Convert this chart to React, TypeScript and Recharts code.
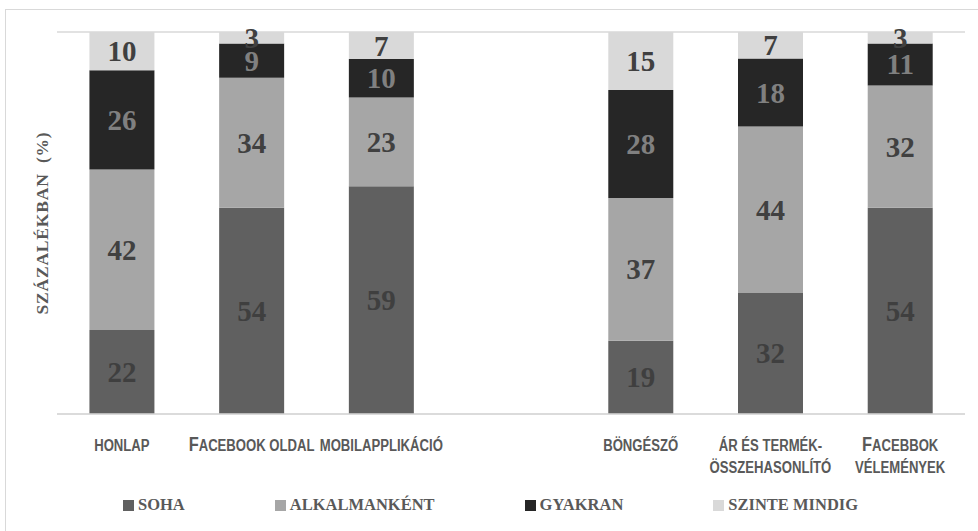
import { Bar, BarChart, CartesianGrid, LabelList, Legend, XAxis, YAxis } from "recharts";

// category labels; "\n" marks a line break in the axis label
const categories = [
  "honlap",
  "Facebook oldal",
  "mobilapplikáció",
  "",
  "böngésző",
  "ár és termék-\nösszehasonlító",
  "Facebbok\nvélemények",
];

const soha = [22, 54, 59, null, 19, 32, 54];
const alkalmankent = [42, 34, 23, null, 37, 44, 32];
const gyakran = [26, 9, 10, null, 28, 18, 11];
const szinteMindig = [10, 3, 7, null, 15, 7, 3];

const gridTicks = [0, 0.1, 0.2, 0.3, 0.4, 0.5, 0.6, 0.7, 0.8, 0.9, 1];

const series = [
  { key: "soha", name: "SOHA", fill: "#606060", label: "#3f3f3f" },
  { key: "alkalmankent", name: "ALKALMANKÉNT", fill: "#a6a6a6", label: "#404040" },
  { key: "gyakran", name: "GYAKRAN", fill: "#262626", label: "#808080" },
  { key: "szinteMindig", name: "SZINTE MINDIG", fill: "#d9d9d9", label: "#404040" },
];

const data = categories.map((name, i) => ({
  name,
  soha: soha[i],
  alkalmankent: alkalmankent[i],
  gyakran: gyakran[i],
  szinteMindig: szinteMindig[i],
}));

const SERIF = "'Liberation Serif', 'Times New Roman', serif";
const SANS = "'Liberation Sans', Arial, sans-serif";

// small caps by hand: capitals stay large, lower case becomes smaller capitals
const smallCaps = (line: string) => {
  const runs: { text: string; big: boolean }[] = [];
  for (const ch of line) {
    const big = ch !== ch.toLowerCase();
    const last = runs[runs.length - 1];
    if (last && last.big === big) last.text += ch.toUpperCase();
    else runs.push({ text: ch.toUpperCase(), big });
  }
  return runs;
};

// no narrow face installed, so the sans face is squeezed horizontally
const CategoryTick = (props: any) => {
  const { x, y, payload } = props;
  const lines = String(payload.value).split("\n");
  return (
    <g transform={`translate(${x},${y + 37}) scale(0.82,1)`}>
      <text x={0} y={0} textAnchor="middle" fill="#595959" fontFamily={SANS} fontWeight="bold">
        {lines.map((line, li) => (
          <tspan key={li} x={0} dy={li === 0 ? 0 : 22}>
            {smallCaps(line).map((r, ri) => (
              <tspan key={ri} fontSize={r.big ? 20 : 16}>
                {r.text}
              </tspan>
            ))}
          </tspan>
        ))}
      </text>
    </g>
  );
};

const makeValueLabel = (color: string) => (props: any) => {
  const { x, y, width, height, value } = props;
  if (value == null || [x, y, width, height].some((v) => typeof v !== "number" || isNaN(v))) return null;
  return (
    <text
      x={x + width / 2}
      y={y + height / 2}
      textAnchor="middle"
      dominantBaseline="central"
      fill={color}
      fontFamily={SERIF}
      fontWeight="bold"
      fontSize={29}
    >
      {value}
    </text>
  );
};

const LegendContent = () => (
  <div style={{ display: "flex", paddingLeft: 123, alignItems: "center" }}>
    {series.map((s) => (
      <div key={s.key} style={{ display: "flex", alignItems: "center", marginRight: 90 }}>
        <span style={{ width: 11, height: 11, background: s.fill, display: "inline-block", marginRight: 4 }} />
        <span
          style={{
            fontFamily: SERIF,
            fontWeight: "bold",
            fontSize: 16.5,
            color: "#595959",
            lineHeight: "16px",
          }}
        >
          {s.name}
        </span>
      </div>
    ))}
  </div>
);

const YTitle = (props: any) => {
  const { viewBox } = props;
  const cy = viewBox.y + viewBox.height / 2;
  return (
    <text
      x={42}
      y={cy}
      transform={`rotate(-90 42 ${cy})`}
      textAnchor="middle"
      dominantBaseline="central"
      fill="#595959"
      fontFamily={SERIF}
      fontWeight="bold"
      fontSize={17.5}
      letterSpacing={0.8}
      style={{ whiteSpace: "pre" }}
    >
      {"SZÁZALÉKBAN  (%)"}
    </text>
  );
};

export default function App() {
  return (
    <div
      style={{
        position: "absolute",
        left: 0,
        top: 0,
        width: 978,
        height: 531,
        overflow: "hidden",
        background: "#fff",
      }}
    >
      <div
        style={{
          position: "absolute",
          left: 5,
          top: 9,
          width: 1100,
          height: 700,
          border: "1.5px solid #d9d9d9",
        }}
      />
      <div style={{ position: "absolute", left: 0, top: 0 }}>
        <BarChart
          width={978}
          height={531}
          data={data}
          stackOffset="expand"
          barCategoryGap="25%"
          margin={{ top: 32, right: 13, bottom: 0, left: 0 }}
        >
          <CartesianGrid vertical={false} stroke="#d9d9d9" strokeWidth={1.5} />
          <YAxis
            width={57}
            domain={[0, 1]}
            ticks={gridTicks}
            tick={false}
            axisLine={false}
            tickLine={false}
            label={<YTitle />}
          />
          <XAxis
            dataKey="name"
            height={117}
            interval={0}
            tickLine={false}
            tickSize={0}
            tickMargin={0}
            axisLine={{ stroke: "#d9d9d9", strokeWidth: 1.5 }}
            tick={<CategoryTick />}
          />
          <Legend
            verticalAlign="middle"
            content={<LegendContent />}
            wrapperStyle={{ top: 497, left: 0, width: 978, height: 16 }}
          />
          {series.map((s) => (
            <Bar key={s.key} dataKey={s.key} name={s.name} stackId="a" fill={s.fill} isAnimationActive={false}>
              <LabelList dataKey={s.key} content={makeValueLabel(s.label)} />
            </Bar>
          ))}
        </BarChart>
      </div>
    </div>
  );
}
